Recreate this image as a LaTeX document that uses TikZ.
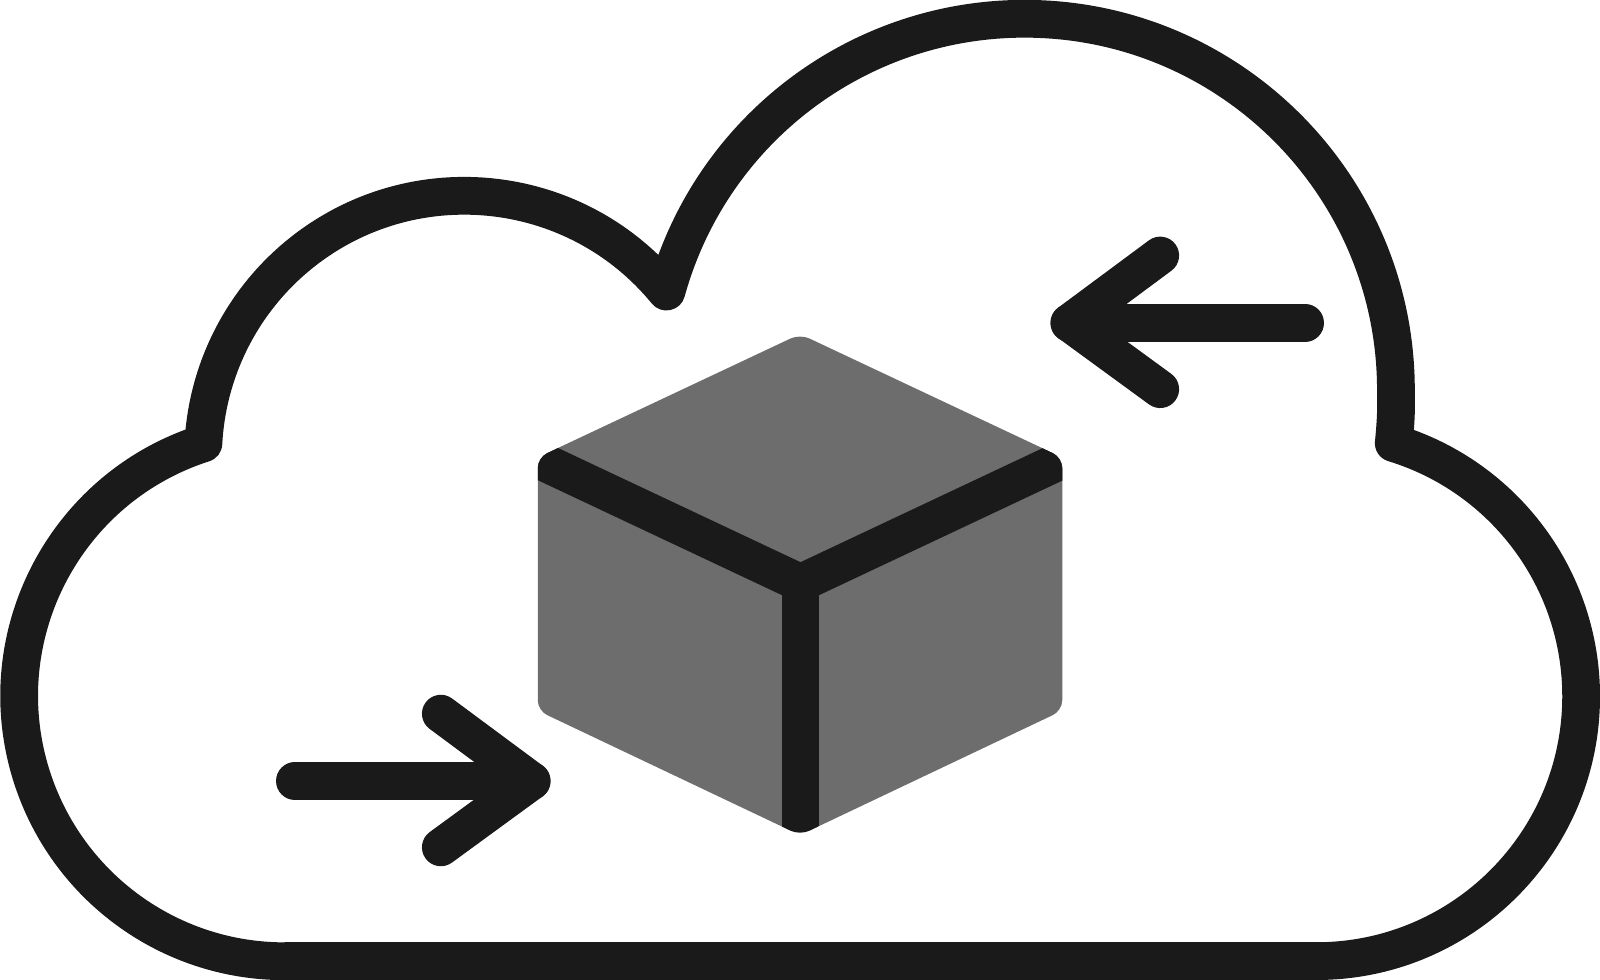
\documentclass[tikz,border=0pt]{standalone}
\usepackage{tikz}
\definecolor{inkblack}{HTML}{1A1A1A}
\definecolor{boxgrey}{HTML}{6D6D6D}

\begin{document}
\begin{tikzpicture}[x=1pt, y=1pt, thickline/.style={draw=inkblack, line width=37pt, line cap=round, line join=round}, boxface/.style={fill=boxgrey}]
  \useasboundingbox[fill=white] (0,0) rectangle (1568,960.4);

  % cloud
  \draw[thickline] (279,18.5) -- (1290,18.5)
    arc[start angle=-90, end angle=73, radius=259.5]
    .. controls (1369,557) and (1368,570) .. (1368,578)
    arc[start angle=0, end angle=164.6, radius=364]
    arc[start angle=39.3, end angle=177, radius=256]
    arc[start angle=107.8, end angle=270, radius=260] -- cycle;

  % box
  \def\boxoutline{(784,633) -- (1041,512) -- (1041,264) -- (784,142) -- (527,264) -- (527,512) -- cycle}
  \fill[boxface, rounded corners=10pt] \boxoutline;
  \begin{scope}
    \clip[rounded corners=10pt] \boxoutline;
    \coordinate (boxmid) at (784.5,389);
    \coordinate (boxleft) at (500,523);
    \coordinate (boxright) at (1069,523);
    \coordinate (boxfoot) at (784.5,120);
    \draw[inkblack, line width=37pt] (boxleft) -- (boxmid) -- (boxright);
    \draw[inkblack, line width=37pt] (boxmid) -- (boxfoot);
  \end{scope}

  % incoming arrow
  \coordinate (intail) at (289,195);
  \coordinate (intip) at (521,195);
  \coordinate (inup) at (432,261);
  \coordinate (indown) at (432,130);
  \draw[thickline] (intail) -- (intip);
  \draw[thickline] (inup) -- (intip) -- (indown);

  % outgoing arrow
  \coordinate (outtail) at (1279,644);
  \coordinate (outtip) at (1048,644);
  \coordinate (outup) at (1137,710);
  \coordinate (outdown) at (1137,579);
  \draw[thickline] (outtail) -- (outtip);
  \draw[thickline] (outup) -- (outtip) -- (outdown);
\end{tikzpicture}
\end{document}
